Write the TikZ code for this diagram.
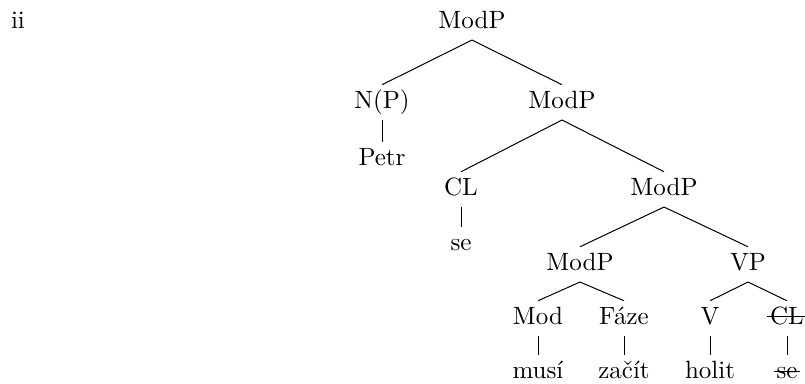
\documentclass[tikz,border=0pt]{standalone}
\begin{document}
\begin{tikzpicture}[x=0.4pt,y=-0.4pt,
  lab/.style={anchor=base,text height=7pt,text depth=2.5pt,inner ysep=2.1pt,inner xsep=1pt},
  edge/.style={draw,line width=0.4pt},
  strikeline/.style={draw,line width=0.4pt}]
\useasboundingbox (0,0) rectangle (805,383);
\node[lab] (ii) at (18,28) {ii};
\node[lab] (root) at (472,28) {ModP};
\node[lab] (np) at (382,108) {N(P)};
\node[lab] (m2) at (562,108) {ModP};
\node[lab] (petr) at (382,165) {Petr};
\node[lab] (cl) at (461,195) {CL};
\node[lab] (m3) at (664,195) {ModP};
\node[lab] (se) at (461,250) {se};
\node[lab] (m4) at (580,270) {ModP};
\node[lab] (vp) at (748,270) {VP};
\node[lab] (mod) at (538,324) {Mod};
\node[lab] (faze) at (624,324) {Fáze};
\node[lab] (v) at (710,324) {V};
\node[lab] (cl2) at (787,324) {CL};
\node[lab] (musi) at (538,378) {musí};
\node[lab] (zacit) at (624,378) {začít};
\node[lab] (holit) at (710,378) {holit};
\node[lab] (se2) at (787,378) {se};
\path[edge] (root.south) -- (np.north);
\path[edge] (root.south) -- (m2.north);
\path[edge] (np.south) -- (petr.north);
\path[edge] (m2.south) -- (cl.north);
\path[edge] (m2.south) -- (m3.north);
\path[edge] (cl.south) -- (se.north);
\path[edge] (m3.south) -- (m4.north);
\path[edge] (m3.south) -- (vp.north);
\path[edge] (m4.south) -- (mod.north);
\path[edge] (m4.south) -- (faze.north);
\path[edge] (vp.south) -- (v.north);
\path[edge] (vp.south) -- (cl2.north);
\path[edge] (mod.south) -- (musi.north);
\path[edge] (faze.south) -- (zacit.north);
\path[edge] (v.south) -- (holit.north);
\path[edge] (cl2.south) -- (se2.north);
\path[strikeline] ([yshift=3pt]cl2.base west) -- ([yshift=3pt]cl2.base east);
\path[strikeline] ([yshift=2.6pt]se2.base west) -- ([yshift=2.6pt]se2.base east);
\end{tikzpicture}
\end{document}
